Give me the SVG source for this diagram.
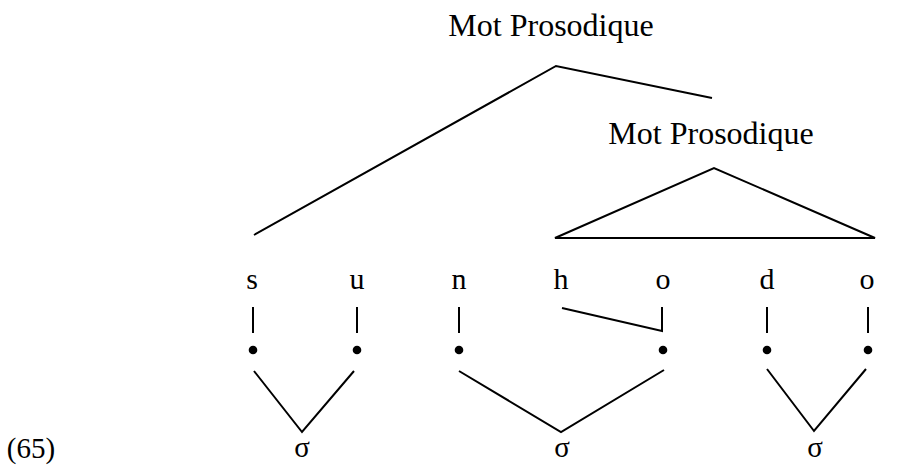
<svg xmlns="http://www.w3.org/2000/svg" width="915" height="469" viewBox="0 0 915 469">
<style>
text{font-family:"Liberation Serif","DejaVu Serif",serif;fill:#000;text-anchor:middle}
.lbl{font-size:32px}
.seg{font-size:30px}
.sig{font-size:29px}
.ln{stroke:#000;stroke-width:2;fill:none;stroke-linejoin:miter}
.dot{fill:#000}
</style>
<rect width="915" height="469" fill="#fff"/>
<g id="mp1"><text class="lbl" x="551" y="36">Mot Prosodique</text></g>
<g id="mp2"><text class="lbl" x="711" y="144">Mot Prosodique</text></g>
<g id="segments">
<g id="s"><text class="seg" x="252" y="289">s</text></g>
<g id="u"><text class="seg" x="357" y="289">u</text></g>
<g id="n"><text class="seg" x="459" y="289">n</text></g>
<g id="h"><text class="seg" x="561" y="289">h</text></g>
<g id="o1"><text class="seg" x="663" y="289">o</text></g>
<g id="d"><text class="seg" x="767" y="289">d</text></g>
<g id="o2"><text class="seg" x="867" y="289">o</text></g>
</g>
<g id="dots">
<circle class="dot" cx="253" cy="350" r="4.3"/>
<circle class="dot" cx="357" cy="350" r="4.3"/>
<circle class="dot" cx="459" cy="350" r="4.3"/>
<circle class="dot" cx="663" cy="350" r="4.3"/>
<circle class="dot" cx="767" cy="350" r="4.3"/>
<circle class="dot" cx="868" cy="350" r="4.3"/>
</g>
<g id="sigmas">
<text class="sig" x="302" y="457">σ</text>
<text class="sig" x="562" y="457">σ</text>
<text class="sig" x="815" y="457">σ</text>
</g>
<g id="ex"><text class="sig" x="31" y="458">(65)</text></g>
<g id="connectors">
<polyline class="ln" points="254,235 556,66 712,98"/>
<polygon class="ln" points="555,238 714,168 875,238"/>
<line class="ln" x1="253" y1="307" x2="253" y2="333"/>
<line class="ln" x1="357" y1="307" x2="357" y2="333"/>
<line class="ln" x1="459" y1="307" x2="459" y2="333"/>
<polyline class="ln" points="562,308 662,331 662,307"/>
<line class="ln" x1="767" y1="307" x2="767" y2="333"/>
<line class="ln" x1="868" y1="307" x2="868" y2="333"/>
<polyline class="ln" points="254,371 302,432 354,371"/>
<polyline class="ln" points="459,371 561,432 664,370"/>
<polyline class="ln" points="767,369 814,431 866,369"/>
</g>
</svg>
